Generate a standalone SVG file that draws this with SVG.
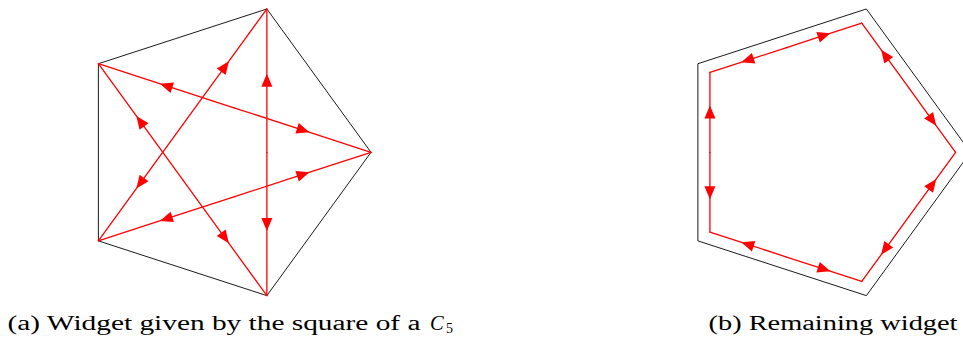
<svg xmlns="http://www.w3.org/2000/svg" width="963" height="340" viewBox="0 0 963 340">
<style>
.frame{fill:none;stroke:#000;stroke-width:0.9;stroke-linejoin:miter}
.edge{fill:none;stroke:#ff0000;stroke-width:1.3;stroke-linecap:round;marker-mid:url(#arr)}
.cap{font-family:"Liberation Serif","Times New Roman",serif;font-size:20.5px;fill:#000}
</style>
<defs>
<marker id="arr" markerUnits="userSpaceOnUse" viewBox="-8 -8 16 16" markerWidth="16" markerHeight="16" refX="0" refY="0" orient="auto">
<path d="M-6,-5.5 L7,0 L-6,5.5 Z" fill="#ff0000"/>
</marker>
</defs>
<rect width="963" height="340" fill="#fff"/>
<g id="widget-a">
<polygon class="frame" points="371,152.3 266.87,8.97 98.38,63.72 98.38,240.88 266.87,295.63"/>
</g>
<g id="widget-b">
<polygon class="frame" points="970.5,152.3 866.37,8.97 697.88,63.72 697.88,240.88 866.37,295.63"/>
</g>
<g id="connectors-a">
<path class="edge" d="M182.63,124.93 L224.75,66.95 L266.87,8.97"/>
<path class="edge" d="M182.63,124.93 L140.50,182.90 L98.38,240.88"/>
<path class="edge" d="M266.87,152.3 L266.87,80.64 L266.87,8.97"/>
<path class="edge" d="M266.87,152.3 L266.87,223.97 L266.87,295.63"/>
<path class="edge" d="M234.69,108.01 L166.54,85.87 L98.38,63.72"/>
<path class="edge" d="M234.69,108.01 L302.84,130.15 L371,152.3"/>
<path class="edge" d="M234.69,196.59 L166.54,218.73 L98.38,240.88"/>
<path class="edge" d="M234.69,196.59 L302.84,174.45 L371,152.3"/>
<path class="edge" d="M182.63,179.68 L140.50,121.70 L98.38,63.72"/>
<path class="edge" d="M182.63,179.68 L224.75,237.65 L266.87,295.63"/>
</g>
<g id="connectors-b">
<path class="edge" d="M785.86,47.82 L747.90,60.15 L709.94,72.48"/>
<path class="edge" d="M785.86,47.82 L823.81,35.48 L861.77,23.15"/>
<path class="edge" d="M709.94,152.3 L709.94,112.39 L709.94,72.48"/>
<path class="edge" d="M709.94,152.3 L709.94,192.21 L709.94,232.12"/>
<path class="edge" d="M785.86,256.79 L747.90,244.45 L709.94,232.12"/>
<path class="edge" d="M785.86,256.79 L823.81,269.12 L861.77,281.45"/>
<path class="edge" d="M908.69,216.88 L885.23,249.16 L861.77,281.45"/>
<path class="edge" d="M908.69,216.88 L932.14,184.59 L955.6,152.3"/>
<path class="edge" d="M908.69,87.73 L932.14,120.01 L955.6,152.3"/>
<path class="edge" d="M908.69,87.73 L885.23,55.44 L861.77,23.15"/>
</g>
<g id="captions">
<text class="cap" x="7.5" y="330" textLength="413" lengthAdjust="spacingAndGlyphs">(a) Widget given by the square of a</text>
<text class="cap" x="430" y="330" font-style="italic">C</text>
<text class="cap" x="446" y="333" style="font-size:14px">5</text>
<text class="cap" x="708.5" y="330" textLength="249" lengthAdjust="spacingAndGlyphs">(b) Remaining widget</text>
</g>
</svg>
